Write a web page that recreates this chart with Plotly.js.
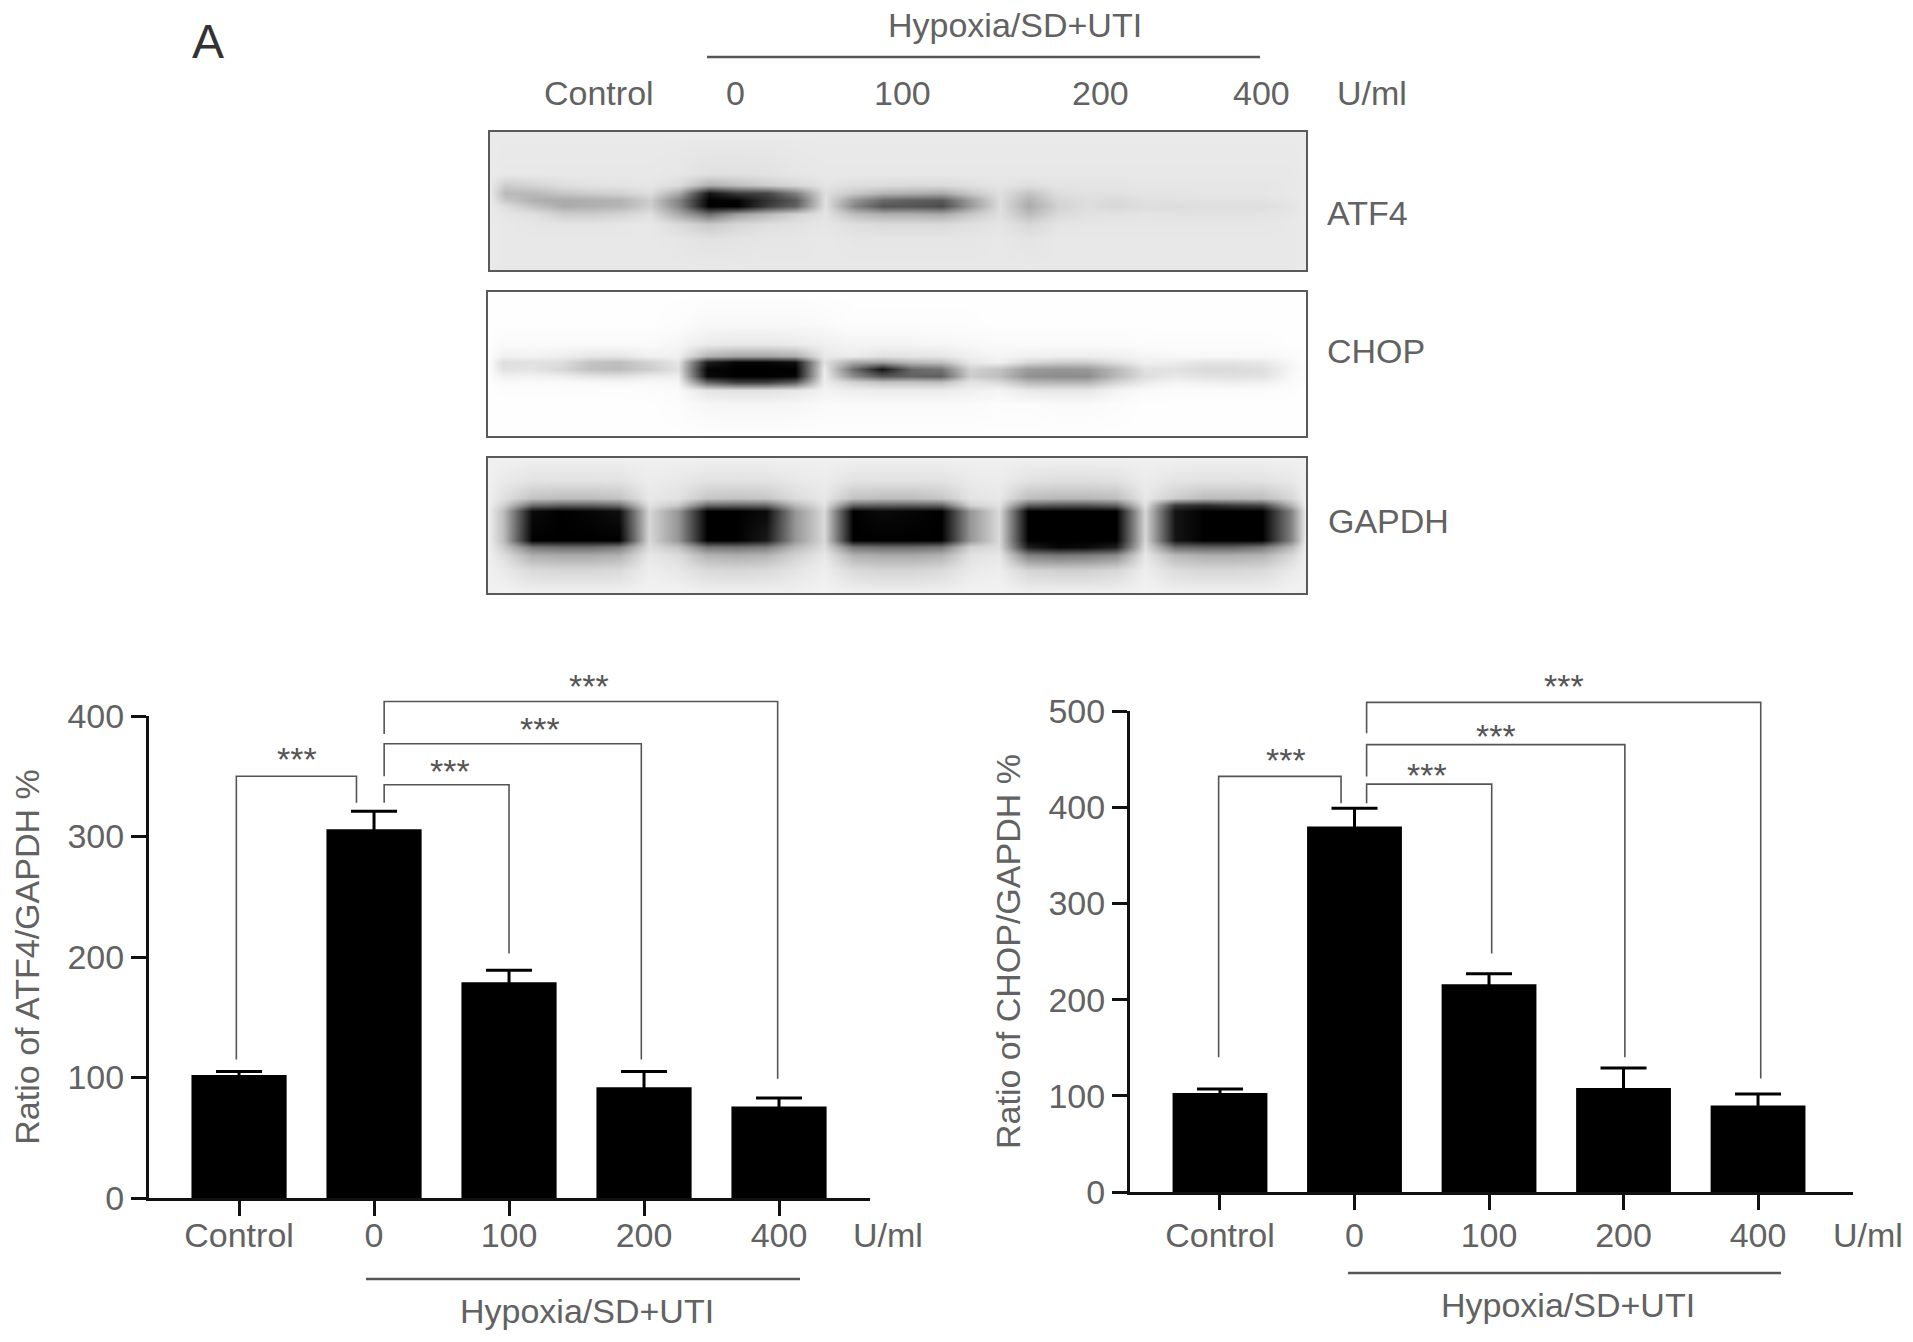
<!DOCTYPE html>
<html>
<head>
<meta charset="utf-8">
<script src="https://cdn.plot.ly/plotly-3.0.1.min.js"></script>
<style>
    html, body { margin: 0; padding: 0; background: #fff; }
    #chart { width: 1913px; height: 1342px; }
</style>
</head>
<body>
<div id="chart"></div>
<script>
/* Bar chart data */
const doseLabels = ['Control', '0', '100', '200', '400'];
const doseIndex = [0, 1, 2, 3, 4];
const atf4Ratio = [102, 306, 179, 92, 76];
const atf4Err = [3, 15, 10, 13, 7];
const chopRatio = [103, 380, 216, 108, 90];
const chopErr = [4, 19, 11, 21, 12];

/* Significance brackets, in axis units (null breaks the line) */
const atf4BracketX = [-0.02, -0.02, 0.87, 0.87, null, 1.075, 1.075, 2, 2, null, 1.075, 1.075, 2.98, 2.98, null, 1.075, 1.075, 3.99, 3.99];
const atf4BracketY = [115, 350, 350, 328, null, 328, 343, 343, 203, null, 350, 377, 377, 115, null, 385, 412, 412, 99];
const atf4StarX = [0.43, 1.56, 2.23, 2.59];
const atf4StarY = [364, 354, 389, 425];

const chopBracketX = [-0.01, -0.01, 0.9, 0.9, null, 1.09, 1.09, 2.02, 2.02, null, 1.09, 1.09, 3.01, 3.01, null, 1.09, 1.09, 4.02, 4.02];
const chopBracketY = [140, 432, 432, 404, null, 404, 424, 424, 248, null, 432, 465, 465, 140, null, 477, 509, 509, 118];
const chopStarX = [0.49, 1.54, 2.05, 2.56];
const chopStarY = [449, 433, 474, 526];

/* Blot grey levels (0 black, 255 white), lanes left to right */
const atf4Rows = [400, 520, 555, 580, 600, 620, 645, 675, 720, 810];
const atf4Blot = [
    [234,234,234,234,234,234,234,234,234,234,234,234,234,234,234,234,234,234,234,234,234,234,234,234,234,234,234,234],
    [232,232,232,232,232,232,230,224,224,226,230,232,232,232,232,232,232,232,232,232,232,232,232,232,232,232,232,232],
    [205,212,222,226,228,230,220,175,190,205,215,228,222,220,218,218,224,228,222,228,228,228,230,230,230,230,230,232],
    [185,185,198,205,210,222,170,20,60,70,130,222,200,180,175,170,200,224,195,222,225,225,228,228,230,230,230,232],
    [200,175,170,176,180,205,130,0,5,50,90,225,150,105,95,90,160,222,178,215,222,218,225,225,226,226,226,230],
    [222,195,172,176,182,208,135,0,0,60,100,226,135,85,85,75,155,222,172,210,222,215,222,220,222,222,222,228],
    [230,224,205,205,212,224,170,110,160,185,210,228,190,175,175,170,200,224,188,218,225,226,228,226,226,226,228,230],
    [232,230,228,228,230,232,218,200,215,222,226,230,222,218,218,218,224,228,215,228,230,230,230,230,230,230,230,232],
    [232,232,232,232,232,232,230,226,228,230,230,232,230,230,230,230,230,232,228,232,232,232,232,232,232,232,232,232],
    [232,232,232,232,232,232,232,232,232,232,232,232,232,232,232,232,232,232,232,232,232,232,232,232,232,232,232,232],
];

const chopRows = [35, 130, 190, 225, 245, 265, 285, 305, 330, 370, 465];
const chopBlot = [
    [254,254,254,254,254,254,254,254,254,254,254,254,254,254,254,254,254,254,254,254,254,254,254,254,254,254,254,254],
    [254,254,254,254,254,254,252,248,248,248,248,250,253,253,253,253,253,254,254,254,254,254,254,254,254,254,254,254],
    [250,250,250,250,250,250,246,235,232,232,235,240,244,244,244,246,248,250,250,250,250,250,252,252,252,252,252,254],
    [240,242,238,230,230,240,240,180,165,165,175,232,236,225,228,230,240,245,240,238,238,240,245,248,248,248,248,250],
    [222,225,222,195,190,210,230,30,5,5,15,225,170,160,185,190,232,240,215,205,205,222,240,236,228,228,232,248],
    [225,228,215,192,188,205,225,5,0,0,0,235,110,20,105,115,210,195,155,150,152,185,225,226,218,218,222,245],
    [240,242,238,228,225,235,238,10,0,0,5,238,140,85,100,95,205,190,145,140,140,185,222,232,226,224,226,248],
    [250,250,250,248,246,248,246,100,60,60,90,238,210,195,195,190,228,218,185,180,180,212,235,244,240,238,240,250],
    [253,253,253,253,253,252,250,228,225,225,230,242,238,236,236,236,240,244,232,230,230,244,250,252,252,252,252,253],
    [254,254,254,254,254,254,252,246,245,245,246,250,250,250,250,250,250,252,252,250,250,252,254,254,254,254,254,254],
    [254,254,254,254,254,254,254,254,254,254,254,254,254,254,254,254,254,254,254,254,254,254,254,254,254,254,254,254],
];

const gapdhRows = [532, 600, 650, 672, 690, 780, 800, 825, 870, 940];
const gapdhBlot = [
    [240,240,240,240,240,240,240,240,240,240,240,240,240,240,240,240,240,240,240,240,240,240,240,240,240,240,240,240],
    [234,226,225,225,226,236,232,226,225,226,232,236,226,225,225,226,234,236,225,222,222,224,236,228,225,225,226,232],
    [224,195,190,190,195,232,226,198,195,198,220,232,195,190,190,198,228,232,190,185,185,190,232,205,188,188,190,215],
    [210,110,95,95,110,226,200,105,100,105,185,226,100,95,95,100,210,226,95,85,85,100,226,60,45,60,70,180],
    [190,10,0,5,15,215,150,0,0,10,150,218,0,10,5,0,150,218,0,0,0,0,215,20,0,0,0,130],
    [190,0,0,0,0,215,150,0,0,25,150,218,0,0,0,0,150,218,0,0,0,0,215,20,0,0,0,130],
    [205,120,110,110,125,222,195,120,115,125,185,222,120,110,110,120,210,222,30,5,10,30,222,110,100,100,120,185],
    [222,175,170,170,178,232,220,180,175,180,210,232,178,170,170,178,225,232,130,120,125,140,232,185,175,175,180,215],
    [234,218,215,215,218,238,232,218,215,218,228,238,218,212,212,218,234,238,212,208,208,215,238,220,215,215,218,234],
    [242,240,240,240,240,242,242,240,240,240,240,242,240,240,240,240,242,242,240,240,240,240,242,240,240,240,240,242],
];
const blotLanes = atf4Blot[0].map((_, i) => i);

const PAGE_W = 1913;
const PAGE_H = 1342;
const INK = '#626262';
const FONT = '"Liberation Sans", sans-serif';
const xDom = (a, b) => [a / PAGE_W, b / PAGE_W];
const yDom = (top, bottom) => [1 - bottom / PAGE_H, 1 - top / PAGE_H];
const grey = [[0, '#000000'], [1, '#ffffff']];

function blotTrace(z, rows, n) {
    // membrane background on both sides so the bands fade out before the frame
    const edge = z[0][0];
    return { type: 'heatmap', z: z.map(r => [edge, ...r, edge]), x: [-0.5, ...blotLanes, 27.5], y: rows,
        zmin: 0, zmax: 255, zsmooth: 'best', colorscale: grey, showscale: false, hoverinfo: 'skip',
        xaxis: 'x' + n, yaxis: 'y' + n };
}

function barTrace(values, errs, n) {
    // lower cap goes a little inside the black bar so it does not show
    return { type: 'bar', x: doseIndex, y: values, width: 0.705, marker: { color: '#000' },
        error_y: { type: 'data', symmetric: false, array: errs, arrayminus: errs.map(() => 4),
            color: '#000', thickness: 3, width: 23 },
        cliponaxis: false, hoverinfo: 'skip', xaxis: 'x' + n, yaxis: 'y' + n };
}

function bracketTrace(xs, ys, n) {
    return { type: 'scatter', mode: 'lines', x: xs, y: ys, cliponaxis: false,
        line: { color: '#555', width: 1.6 }, hoverinfo: 'skip', xaxis: 'x' + n, yaxis: 'y' + n };
}

function blotAxes(x0, x1, y0, y1, rowRange, n) {
    const box = { showline: true, mirror: true, linecolor: '#5a5a5a', linewidth: 2, ticks: '',
        showticklabels: false, showgrid: false, zeroline: false };
    return [
        Object.assign({}, box, { domain: xDom(x0, x1), range: [-0.5, 27.5], anchor: 'y' + n }),
        Object.assign({}, box, { domain: yDom(y0, y1), range: rowRange, anchor: 'x' + n }),
    ];
}

function barAxes(x0, x1, y0, y1, xRange, yMax, title, n, labelShift) {
    const tickFont = { family: FONT, size: 34, color: INK };
    return [
        { domain: xDom(x0, x1), range: xRange, anchor: 'y' + n, tickmode: 'array', tickvals: doseIndex, ticktext: doseLabels,
            ticks: 'outside', ticklen: 15, tickwidth: 3, tickcolor: '#111', showline: true, linecolor: '#111', linewidth: 3,
            showgrid: false, zeroline: false, tickfont: tickFont, ticklabelstandoff: labelShift },
        { domain: yDom(y0, y1), range: [0, yMax], anchor: 'x' + n, dtick: 100,
            ticks: 'outside', ticklen: 15, tickwidth: 3, tickcolor: '#111', showline: true, linecolor: '#111', linewidth: 3,
            showgrid: false, zeroline: false, tickfont: tickFont, ticklabelstandoff: 0,
            title: { text: title, font: { family: FONT, size: 34, color: INK }, standoff: 18 } },
    ];
}

// invisible axes in the same units, taller than the drawn ones, for brackets and stars above the top tick
function overlayAxes(x0, x1, top, bottom, xRange, yTop, n) {
    return [
        { visible: false, domain: xDom(x0, x1), range: xRange, anchor: 'y' + n },
        { visible: false, domain: yDom(top, bottom), range: [0, yTop], anchor: 'x' + n },
    ];
}

const [x1, y1] = blotAxes(490, 1306, 132, 270, [815, 393], 1);
const [x2, y2] = blotAxes(488, 1306, 292, 436, [468, 32], 2);
const [x3, y3] = blotAxes(488, 1306, 458, 593, [942, 528], 3);
const [x4, y4] = barAxes(149, 870, 716, 1198, [-0.667, 4.674], 400, 'Ratio of ATF4/GAPDH %', 4, -10);
const [x5, y5] = barAxes(1130, 1853, 711, 1192, [-0.669, 4.706], 500, 'Ratio of CHOP/GAPDH %', 5, -4);
const [x6, y6] = overlayAxes(149, 870, 640, 1198, [-0.667, 4.674], 558 * 400 / 482, 6);
const [x7, y7] = overlayAxes(1130, 1853, 640, 1192, [-0.669, 4.706], 552 * 500 / 481, 7);

function label(text, px, py, size, color) {
    return { text: text, xref: 'paper', yref: 'paper', x: px / PAGE_W, y: 1 - py / PAGE_H, showarrow: false,
        xanchor: 'center', yanchor: 'middle', font: { family: FONT, size: size || 34, color: color || INK } };
}

function stars(xs, ys, n) {
    return xs.map((x, i) => ({ text: '***', xref: 'x' + n, yref: 'y' + n, x: x, y: ys[i], showarrow: false,
        xanchor: 'center', yanchor: 'middle', font: { family: FONT, size: 34, color: '#555' } }));
}

function rule(a, b, py) {
    return { type: 'line', xref: 'paper', yref: 'paper', x0: a / PAGE_W, x1: b / PAGE_W, y0: 1 - py / PAGE_H, y1: 1 - py / PAGE_H,
        line: { color: '#555', width: 2.5 } };
}

const layout = {
    width: PAGE_W, height: PAGE_H, margin: { l: 0, r: 0, t: 0, b: 0 }, showlegend: false,
    paper_bgcolor: '#fff', plot_bgcolor: 'rgba(0,0,0,0)', font: { family: FONT, color: INK },
    xaxis: x1, yaxis: y1, xaxis2: x2, yaxis2: y2, xaxis3: x3, yaxis3: y3,
    xaxis4: x4, yaxis4: y4, xaxis5: x5, yaxis5: y5, xaxis6: x6, yaxis6: y6, xaxis7: x7, yaxis7: y7,
    shapes: [rule(707, 1260, 57), rule(366, 800, 1279), rule(1348, 1781, 1273)],
    annotations: [
        label('A', 208, 41, 48, '#333'),
        label('Hypoxia/SD+UTI', 1015, 25),
        label('Control', 599, 93), label('0', 735, 93), label('100', 902, 93), label('200', 1100, 93), label('400', 1261, 93), label('U/ml', 1372, 93),
        label('ATF4', 1367, 213), label('CHOP', 1376, 351), label('GAPDH', 1388, 521),
        label('U/ml', 888, 1235),
        label('Hypoxia/SD+UTI', 587, 1311),
        label('U/ml', 1868, 1235),
        label('Hypoxia/SD+UTI', 1568, 1305),
    ].concat(stars(atf4StarX, atf4StarY, 6), stars(chopStarX, chopStarY, 7)),
};

const traces = [
    blotTrace(atf4Blot, atf4Rows, 1),
    blotTrace(chopBlot, chopRows, 2),
    blotTrace(gapdhBlot, gapdhRows, 3),
    barTrace(atf4Ratio, atf4Err, 4),
    bracketTrace(atf4BracketX, atf4BracketY, 6),
    barTrace(chopRatio, chopErr, 5),
    bracketTrace(chopBracketX, chopBracketY, 7),
];

Plotly.newPlot('chart', traces, layout, { displayModeBar: false, responsive: false });
</script>
</body>
</html>
